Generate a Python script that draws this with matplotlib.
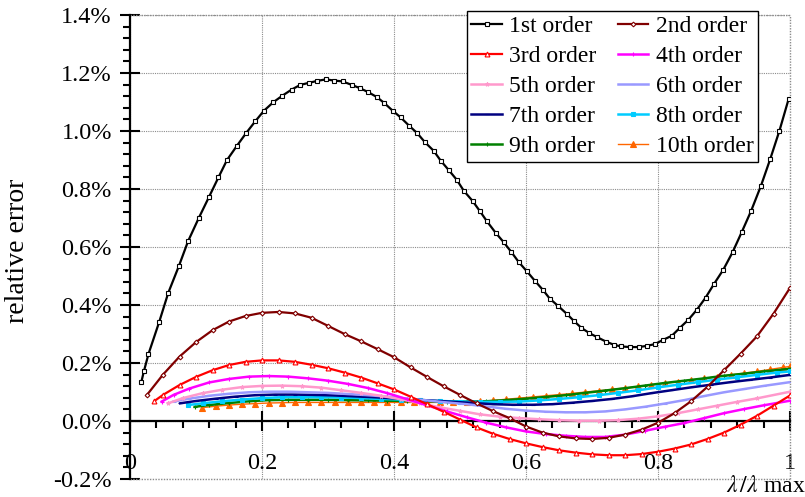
import numpy as np
import matplotlib
matplotlib.use("Agg")
import matplotlib.pyplot as plt
from matplotlib import ticker

plt.rcParams['font.family'] = ['Liberation Serif', 'DejaVu Serif']
plt.rcParams['mathtext.fontset'] = 'stix'

#========= data (x = lambda/lambda_max, y = relative error in %) =========#
x1 = [0.017, 0.021, 0.028, 0.044, 0.058, 0.074, 0.088, 0.104, 0.120, 0.134, 0.147, 0.162, 0.176,
      0.190, 0.203, 0.217, 0.231, 0.245, 0.258, 0.271, 0.284, 0.297, 0.309, 0.322, 0.336, 0.348,
      0.361, 0.374, 0.385, 0.398, 0.410, 0.423, 0.435, 0.447, 0.460, 0.471, 0.483, 0.495, 0.506,
      0.519, 0.530, 0.541, 0.554, 0.566, 0.578, 0.589, 0.601, 0.614, 0.626, 0.636, 0.649, 0.662,
      0.673, 0.684, 0.696, 0.707, 0.721, 0.733, 0.744, 0.758, 0.771, 0.783, 0.795, 0.808, 0.821,
      0.833, 0.846, 0.859, 0.872, 0.885, 0.899, 0.913, 0.927, 0.941, 0.956, 0.970, 0.984, 0.998]
y1 = [0.133, 0.171, 0.231, 0.340, 0.442, 0.534, 0.620, 0.699, 0.774, 0.840, 0.900, 0.949, 0.993,
      1.034, 1.070, 1.099, 1.122, 1.143, 1.159, 1.166, 1.173, 1.178, 1.174, 1.171, 1.159, 1.148,
      1.134, 1.117, 1.097, 1.070, 1.047, 1.018, 0.993, 0.961, 0.932, 0.897, 0.865, 0.832, 0.793,
      0.759, 0.724, 0.688, 0.649, 0.617, 0.582, 0.548, 0.517, 0.482, 0.451, 0.422, 0.396, 0.369,
      0.344, 0.321, 0.303, 0.290, 0.274, 0.263, 0.257, 0.255, 0.255, 0.259, 0.265, 0.280, 0.294,
      0.321, 0.349, 0.384, 0.425, 0.473, 0.522, 0.582, 0.652, 0.724, 0.811, 0.903, 1.001, 1.111]

x2 = [0.025, 0.05, 0.075, 0.10, 0.125, 0.15, 0.175, 0.20, 0.225, 0.25, 0.275, 0.30, 0.325, 0.35,
      0.375, 0.40, 0.425, 0.45, 0.475, 0.50, 0.525, 0.55, 0.575, 0.60, 0.625, 0.65, 0.675, 0.70,
      0.725, 0.75, 0.775, 0.80, 0.825, 0.85, 0.875, 0.90, 0.925, 0.95, 0.975, 1.00]
y2 = [0.088, 0.160, 0.222, 0.272, 0.313, 0.343, 0.362, 0.373, 0.376, 0.371, 0.356, 0.328, 0.300,
      0.275, 0.248, 0.220, 0.185, 0.152, 0.120, 0.090, 0.061, 0.034, 0.010, -0.019, -0.040, -0.053,
      -0.060, -0.062, -0.058, -0.047, -0.030, -0.006, 0.027, 0.068, 0.118, 0.175, 0.232, 0.292,
      0.370, 0.459]

x3 = [0.037, 0.05, 0.075, 0.10, 0.125, 0.15, 0.175, 0.20, 0.225, 0.25, 0.275, 0.30, 0.325, 0.35,
      0.375, 0.40, 0.425, 0.45, 0.475, 0.50, 0.525, 0.55, 0.575, 0.60, 0.625, 0.65, 0.675, 0.70,
      0.725, 0.75, 0.775, 0.80, 0.825, 0.85, 0.875, 0.90, 0.925, 0.95, 0.975, 1.00]
y3 = [0.069, 0.090, 0.124, 0.152, 0.175, 0.193, 0.204, 0.209, 0.209, 0.204, 0.194, 0.182, 0.167,
      0.150, 0.130, 0.109, 0.084, 0.058, 0.032, 0.005, -0.022, -0.044, -0.062, -0.077, -0.090,
      -0.101, -0.109, -0.115, -0.118, -0.118, -0.114, -0.106, -0.095, -0.081, -0.062, -0.040,
      -0.013, 0.018, 0.053, 0.088]

x4 = [0.048, 0.066, 0.09, 0.12, 0.15, 0.18, 0.21, 0.24, 0.27, 0.30, 0.33, 0.36, 0.39, 0.42, 0.45,
      0.48, 0.51, 0.54, 0.57, 0.60, 0.63, 0.66, 0.69, 0.72, 0.75, 0.78, 0.81, 0.84, 0.87, 0.90,
      0.93, 0.96, 1.00]
y4 = [0.067, 0.090, 0.112, 0.133, 0.145, 0.153, 0.155, 0.153, 0.147, 0.139, 0.128, 0.114, 0.096,
      0.075, 0.054, 0.033, 0.013, -0.006, -0.022, -0.036, -0.045, -0.051, -0.055, -0.055, -0.047,
      -0.034, -0.020, -0.007, 0.010, 0.027, 0.041, 0.054, 0.070]

x5 = [0.058, 0.08, 0.11, 0.14, 0.17, 0.20, 0.23, 0.26, 0.29, 0.32, 0.35, 0.38, 0.41, 0.44, 0.47,
      0.50, 0.53, 0.56, 0.59, 0.62, 0.65, 0.68, 0.71, 0.74, 0.77, 0.80, 0.83, 0.86, 0.89, 0.92,
      0.95, 1.00]
y5 = [0.061, 0.079, 0.096, 0.108, 0.117, 0.121, 0.122, 0.120, 0.115, 0.106, 0.097, 0.087, 0.075,
      0.061, 0.047, 0.035, 0.023, 0.015, 0.010, 0.006, 0.003, 0.001, 0.001, 0.003, 0.008, 0.016,
      0.027, 0.040, 0.053, 0.066, 0.078, 0.101]

x6 = [0.066, 0.09, 0.12, 0.15, 0.18, 0.21, 0.24, 0.27, 0.30, 0.33, 0.36, 0.39, 0.42, 0.45, 0.48,
      0.51, 0.54, 0.57, 0.60, 0.63, 0.66, 0.69, 0.72, 0.75, 0.78, 0.81, 0.84, 0.87, 0.90, 0.93,
      0.96, 1.00]
y6 = [0.067, 0.077, 0.087, 0.094, 0.099, 0.101, 0.101, 0.099, 0.097, 0.093, 0.089, 0.084, 0.077,
      0.071, 0.064, 0.058, 0.050, 0.042, 0.036, 0.032, 0.030, 0.030, 0.033, 0.040, 0.049, 0.060,
      0.072, 0.086, 0.099, 0.110, 0.121, 0.134]

x7 = [0.076, 0.10, 0.13, 0.16, 0.19, 0.22, 0.25, 0.28, 0.31, 0.34, 0.37, 0.40, 0.43, 0.46, 0.49,
      0.52, 0.55, 0.58, 0.61, 0.64, 0.67, 0.70, 0.73, 0.76, 0.79, 0.82, 0.85, 0.88, 0.91, 0.94,
      0.97, 1.00]
y7 = [0.061, 0.069, 0.077, 0.084, 0.089, 0.091, 0.091, 0.090, 0.088, 0.085, 0.082, 0.078, 0.074,
      0.070, 0.066, 0.062, 0.058, 0.056, 0.056, 0.058, 0.063, 0.069, 0.076, 0.085, 0.096, 0.106,
      0.116, 0.125, 0.134, 0.142, 0.150, 0.159]

x8 = [0.088, 0.11, 0.14, 0.17, 0.20, 0.23, 0.26, 0.29, 0.32, 0.35, 0.38, 0.41, 0.44, 0.47, 0.50,
      0.53, 0.56, 0.59, 0.62, 0.65, 0.68, 0.71, 0.74, 0.77, 0.80, 0.83, 0.86, 0.89, 0.92, 0.95,
      0.98, 1.00]
y8 = [0.055, 0.061, 0.068, 0.074, 0.079, 0.082, 0.082, 0.082, 0.081, 0.079, 0.076, 0.074, 0.071,
      0.069, 0.067, 0.066, 0.066, 0.067, 0.071, 0.076, 0.082, 0.089, 0.097, 0.106, 0.116, 0.125,
      0.134, 0.143, 0.151, 0.159, 0.167, 0.171]

x9 = [0.098, 0.12, 0.15, 0.18, 0.21, 0.24, 0.27, 0.30, 0.33, 0.36, 0.39, 0.42, 0.45, 0.48, 0.51,
      0.54, 0.57, 0.60, 0.63, 0.66, 0.69, 0.72, 0.75, 0.78, 0.81, 0.84, 0.87, 0.90, 0.93, 0.96,
      1.00]
y9 = [0.049, 0.055, 0.062, 0.068, 0.072, 0.073, 0.073, 0.073, 0.072, 0.071, 0.070, 0.069, 0.068,
      0.067, 0.067, 0.068, 0.072, 0.077, 0.083, 0.089, 0.097, 0.105, 0.113, 0.122, 0.131, 0.139,
      0.147, 0.156, 0.163, 0.171, 0.180]

x10 = [0.109, 0.13, 0.15, 0.17, 0.19, 0.21, 0.23, 0.25, 0.27, 0.29, 0.31, 0.33, 0.35, 0.37, 0.39,
       0.41, 0.43, 0.45, 0.47, 0.49, 0.51, 0.53, 0.55, 0.57, 0.59, 0.61, 0.63, 0.65, 0.67, 0.69,
       0.71, 0.73, 0.75, 0.77, 0.79, 0.81, 0.83, 0.85, 0.87, 0.89, 0.91, 0.93, 0.95, 0.97, 0.99, 1.00]
y10 = [0.046, 0.051, 0.055, 0.058, 0.060, 0.062, 0.063, 0.064, 0.064, 0.064, 0.064, 0.064, 0.064,
       0.064, 0.064, 0.064, 0.064, 0.064, 0.064, 0.064, 0.065, 0.068, 0.071, 0.075, 0.079, 0.083,
       0.087, 0.091, 0.095, 0.100, 0.104, 0.109, 0.114, 0.119, 0.125, 0.130, 0.136, 0.141, 0.147,
       0.153, 0.159, 0.165, 0.171, 0.178, 0.185, 0.188]

labels = ['1st order', '2nd order', '3rd order', '4th order', '5th order',
          '6th order', '7th order', '8th order', '9th order', '10th order']

#========= plot =========#
fig = plt.figure(figsize=(8.05, 4.97), dpi=100)
ax = fig.add_axes([130/805., 18/497., 660/805., 464/497.])

xs = [x1, x2, x3, x4, x5, x6, x7, x8, x9, x10]
ys = [y1, y2, y3, y4, y5, y6, y7, y8, y9, y10]
# (color, marker, markersize, marker face, linewidth)
sty = [('black', 's', 2.8, 'white', 1.6),
       ('#800000', 'D', 2.4, 'white', 1.6),
       ('red', '^', 3.5, 'white', 1.6),
       ('#FF00FF', '+', 2.5, '#FF00FF', 1.8),
       ('#FF99CC', '*', 3.0, '#FF99CC', 1.8),
       ('#9999FF', '_', 2.5, '#9999FF', 1.8),
       ('#000080', '_', 2.5, '#000080', 1.8),
       ('#00CCFF', 's', 2.5, '#00CCFF', 1.8),
       ('#008000', '+', 2.5, '#008000', 1.8),
       ('#FF6600', '^', 4.5, '#FF6600', 1.0)]

lines = []
for i in range(10):
	c, mk, ms, mf, lw = sty[i]
	l, = ax.plot(xs[i], ys[i], color=c, marker=mk, ms=ms, mfc=mf, mec=c, mew=0.8, lw=lw,
	             label=labels[i], zorder=3 + (10 - i) * 0.1)
	lines.append(l)

ax.set_xlim(0, 1)
ax.set_ylim(-0.2, 1.4)

# spines: left and a bottom axis through y = 0
ax.spines['top'].set_visible(False)
ax.spines['right'].set_visible(False)
ax.spines['bottom'].set_position(('data', 0))
ax.spines['left'].set_linewidth(1.6)
ax.spines['bottom'].set_linewidth(1.6)

ax.xaxis.set_major_locator(ticker.MultipleLocator(0.2))
ax.xaxis.set_minor_locator(ticker.MultipleLocator(0.04))
ax.yaxis.set_major_locator(ticker.MultipleLocator(0.2))
ax.yaxis.set_minor_locator(ticker.MultipleLocator(0.04))
ax.xaxis.set_major_formatter(ticker.FuncFormatter(lambda v, p: '%g' % round(v, 2)))
ax.yaxis.set_major_formatter(ticker.FuncFormatter(lambda v, p: '%.1f%%' % (round(v, 2) + 0.0)))

ax.tick_params(which='major', direction='inout', length=14, width=1.5, labelsize=17.5)
ax.tick_params(which='minor', direction='out', length=5, width=1.5)
ax.tick_params(axis='x', which='major', pad=16)
ax.tick_params(axis='y', which='major', pad=6)

# grid, incl. the box edges at -0.2%, 1.4% and x = 1
ax.grid(True, which='major', color='#8c8c8c', lw=0.8, ls=(0, (1, 1)))
ax.axhline(-0.2, color='#8c8c8c', lw=1.0, ls=(0, (1, 1)), clip_on=False)
ax.axhline(1.4, color='#8c8c8c', lw=1.0, ls=(0, (1, 1)), clip_on=False)
ax.axvline(1.0, color='#8c8c8c', lw=1.0, ls=(0, (1, 1)), clip_on=False)

fig.text(18/805., 1 - 251/497., 'relative error', rotation=90, ha='center', va='center', fontsize=20)
fig.text(766/805., 1 - 487/497., r'$\lambda\,/\lambda$ max', ha='center', va='center', fontsize=17)

# legend filled row by row: 1st 2nd / 3rd 4th / ...
order = [0, 2, 4, 6, 8, 1, 3, 5, 7, 9]
leg = ax.legend([lines[k] for k in order], [labels[k] for k in order], ncol=2,
                loc='upper right', bbox_to_anchor=(758/805., 1 - 11/497.),
                bbox_transform=fig.transFigure, borderaxespad=0, fontsize=17,
                fancybox=False, framealpha=1, edgecolor='black', handlelength=1.3,
                handletextpad=0.3, columnspacing=0.9, labelspacing=0.36, borderpad=0.2)
leg.get_frame().set_linewidth(1.0)

plt.savefig('out.png', dpi=100)
